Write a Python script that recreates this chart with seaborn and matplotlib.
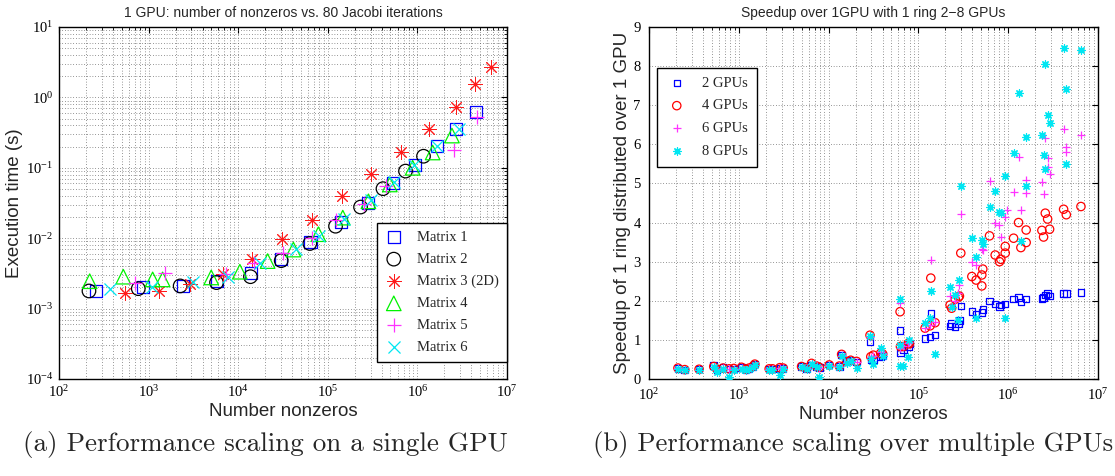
import numpy as np
import pandas as pd
import matplotlib
matplotlib.use("Agg")
import matplotlib.pyplot as plt
import seaborn as sns
from matplotlib.ticker import NullFormatter

# ---------------- Data: (a) single GPU ----------------
m1_nnz = [260, 858, 2400, 5730, 13970, 30200, 64100, 140000, 279000, 530000, 945000, 1640000, 2720000, 4540000]
m1_time = [1.78e-3, 2.0e-3, 2.1e-3, 2.45e-3, 3.2e-3, 5.0e-3, 8.7e-3, 0.017, 0.032, 0.061, 0.111, 0.203, 0.352, 0.627]

m2_nnz = [216, 767, 2250, 5730, 13700, 30200, 63000, 122000, 232000, 413000, 737000, 1170000]
m2_time = [1.78e-3, 1.92e-3, 2.1e-3, 2.34e-3, 2.84e-3, 4.8e-3, 8.4e-3, 0.0148, 0.0277, 0.0505, 0.0898, 0.146]

m3_nnz = [552, 1306, 2875, 6700, 14100, 30800, 65900, 143000, 305000, 660000, 1350000, 2670000, 4340000, 6680000]
m3_time = [1.68e-3, 1.78e-3, 2.24e-3, 3.1e-3, 5.0e-3, 9.6e-3, 0.0184, 0.0393, 0.0822, 0.168, 0.352, 0.738, 1.55, 2.72]

m4_nnz = [220, 522, 1110, 1433, 5000, 10430, 21300, 41300, 78500, 147000, 284000, 492000, 885000, 1480000, 2430000]
m4_time = [2.45e-3, 2.84e-3, 2.6e-3, 2.6e-3, 2.77e-3, 3.34e-3, 4.73e-3, 6.9e-3, 0.0114, 0.0196, 0.0334, 0.058, 0.100, 0.165, 0.287]

m5_nnz = [700, 1515, 7220, 15000, 31300, 67100, 124000, 254000, 449000, 2570000, 4620000]
m5_time = [2.33e-3, 3.24e-3, 3.1e-3, 4.38e-3, 6.2e-3, 0.0102, 0.018, 0.0303, 0.0544, 0.18, 0.532]

m6_nnz = [368, 1080, 3100, 7760, 17700, 44500, 80700, 153000, 305000, 555000, 920000, 1670000, 2900000]
m6_time = [1.92e-3, 2.04e-3, 2.41e-3, 2.77e-3, 4.38e-3, 7.1e-3, 0.0107, 0.019, 0.0345, 0.0627, 0.111, 0.207, 0.357]

matrix_labels = ["Matrix 1", "Matrix 2", "Matrix 3 (2D)", "Matrix 4", "Matrix 5", "Matrix 6"]

# ---------------- Data: (b) multi GPU speedup ----------------
nnz_b = [210, 250, 361, 526, 573, 668, 780, 879, 1072, 1197, 1303, 1445, 1507, 2178, 2371, 2864, 3119,
         5000, 5689, 6457, 7345, 7870, 10160, 13150, 13960, 15850, 17580, 20510, 28900, 29500, 31480,
         38020, 40000, 62500, 63100, 68080, 77270, 79430, 118600, 134900, 137400, 153500, 225400,
         234400, 257000, 279300, 286400, 296500, 393600, 439500, 508200, 521200, 619400, 716100,
         799800, 827900, 926800, 1148000, 1303000, 1384000, 1585000, 2371000, 2477000, 2588000,
         2748000, 2891000, 4140000, 4436000, 6457000]

sp2 = [0.27, 0.23, 0.25, 0.34, 0.23, 0.29, 0.25, 0.26, 0.29, 0.23, 0.27, 0.32, 0.38, 0.25, 0.25, 0.27, 0.27,
       0.32, 0.27, 0.36, 0.32, 0.29, 0.36, 0.32, 0.61, 0.46, 0.49, 0.44, 0.96, 0.49, 0.50, 0.57, 0.60,
       1.24, 0.67, 0.74, 0.83, 0.91, 1.04, 1.08, 1.68, 1.13, 1.36, 1.42, 1.34, 1.41, 1.49, 1.87, 1.72,
       1.66, 1.70, 1.78, 2.00, 1.92, 1.85, 1.89, 1.92, 2.04, 2.09, 1.97, 2.04, 2.06, 2.09, 2.15, 2.18,
       2.12, 2.19, 2.18, 2.21]

sp4 = [0.28, 0.24, 0.25, 0.32, 0.25, 0.28, 0.26, 0.27, 0.30, 0.25, 0.28, 0.33, 0.38, 0.26, 0.26, 0.29, 0.28,
       0.32, 0.28, 0.40, 0.33, 0.30, 0.36, 0.33, 0.63, 0.45, 0.48, 0.45, 1.12, 0.57, 0.61, 0.66, 0.64,
       1.72, 0.83, 0.83, 0.91, 0.90, 1.30, 1.36, 2.58, 1.44, 1.89, 1.81, 2.04, 2.09, 2.12, 3.22, 2.62,
       2.53, 2.38, 2.81, 3.66, 3.17, 3.00, 3.06, 3.22, 3.60, 4.00, 3.36, 3.81, 3.80, 3.63, 4.24, 4.09,
       3.83, 4.34, 4.20, 4.41]

sp6 = [0.27, 0.24, 0.24, 0.31, 0.24, 0.27, 0.25, 0.26, 0.29, 0.24, 0.27, 0.32, 0.37, 0.25, 0.25, 0.28, 0.27,
       0.31, 0.27, 0.39, 0.32, 0.29, 0.35, 0.32, 0.62, 0.44, 0.47, 0.44, 1.08, 0.55, 0.60, 0.70, 0.65,
       1.95, 0.80, 0.85, 0.92, 0.95, 1.30, 1.38, 3.05, 1.45, 2.11, 1.85, 2.00, 2.21, 2.41, 4.22, 3.00,
       2.92, 3.32, 3.30, 5.07, 3.98, 3.94, 3.64, 4.14, 4.79, 5.68, 4.33, 5.08, 5.03, 4.74, 6.17, 5.66,
       5.24, 6.40, 5.94, 6.23]

sp8 = [0.25, 0.23, 0.22, 0.30, 0.19, 0.25, 0.06, 0.24, 0.26, 0.22, 0.25, 0.30, 0.36, 0.24, 0.24, 0.09, 0.26,
       0.30, 0.25, 0.38, 0.30, 0.06, 0.33, 0.30, 0.60, 0.42, 0.45, 0.29, 1.10, 0.52, 0.38, 0.78, 0.60,
       2.05, 0.33, 0.33, 0.57, 1.00, 1.42, 1.55, 2.26, 0.64, 2.35, 1.85, 2.15, 1.50, 2.52, 4.94, 3.60,
       3.13, 3.56, 3.46, 4.41, 4.81, 4.28, 4.24, 5.20, 5.77, 7.31, 3.53, 6.19, 6.23, 5.73, 8.06, 6.74,
       6.55, 8.46, 7.42, 8.40]

extra4_nnz = [926800, 1585000, 508200]
extra4 = [3.39, 3.49, 2.66]
extra6_nnz = [1585000, 2748000, 4436000, 977000]
extra6 = [4.76, 5.43, 5.81, 4.33]
extra8_nnz = [439500, 926800, 1585000, 2588000, 4436000, 62500]
extra8 = [1.55, 1.55, 4.94, 5.38, 5.49, 0.87]

gpu_labels = ["2 GPUs", "4 GPUs", "6 GPUs", "8 GPUs"]

# ---------------- Style ----------------
sns.set_theme(style="white")
plt.rcParams["font.family"] = ["Liberation Sans", "DejaVu Sans"]
plt.rcParams["mathtext.fontset"] = "stix"
plt.rcParams["xtick.direction"] = "in"
plt.rcParams["ytick.direction"] = "in"

SERIF = ["Liberation Serif", "DejaVu Serif"]
GRID = dict(linestyle=(0, (1, 2.6)), color="0.35", linewidth=0.55)

fig = plt.figure(figsize=(11.15, 4.76), dpi=100)
fig.patch.set_facecolor("white")
W, H = 1115.0, 476.0
ax1 = fig.add_axes([59 / W, 97 / H, 448 / W, 352 / H])
ax2 = fig.add_axes([649 / W, 97 / H, 449 / W, 352 / H])

ASTER = (8, 2, 0)


def draw(ax, x, y, marker, color, size, label, filled=False, lw=0.9):
    sns.scatterplot(x=x, y=y, ax=ax, marker=marker, s=size, legend=False, label=label, zorder=3)
    coll = ax.collections[-1]
    coll.set_edgecolor(color)
    coll.set_facecolor(color if filled else "none")
    coll.set_linewidth(lw)
    coll.set_label(label)
    return coll


# ---- Panel (a) ----
left_series = [
    (m1_nnz, m1_time, "s", (0, 0, 1), 75, 0.9),
    (m2_nnz, m2_time, "o", (0, 0, 0), 95, 0.9),
    (m3_nnz, m3_time, ASTER, (1, 0.1, 0.1), 95, 0.7),
    (m4_nnz, m4_time, "^", (0, 0.95, 0), 110, 0.9),
    (m5_nnz, m5_time, "+", (1, 0.2, 1), 110, 0.9),
    (m6_nnz, m6_time, "x", (0, 0.9, 0.95), 75, 0.9),
]
for (xv, yv, mk, col, sz, lw), lab in zip(left_series, matrix_labels):
    filled = mk in (ASTER, "+", "x")
    draw(ax1, xv, yv, mk, col, sz, lab, filled=filled, lw=lw)

ax1.set_xscale("log")
ax1.set_yscale("log")
ax1.set_xlim(1e2, 1e7)
ax1.set_ylim(1e-4, 1e1)
ax1.set_title("1 GPU: number of nonzeros vs. 80 Jacobi iterations", fontsize=10, pad=7)
ax1.set_xlabel("Number nonzeros", fontsize=13.5, labelpad=2)
ax1.set_ylabel("Execution time (s)", fontsize=13.5, labelpad=2)
ax1.grid(True, which="both", **GRID)

leg1 = ax1.legend(loc="lower right", bbox_to_anchor=(1.0, 0.048), borderaxespad=0.0,
                  prop={"family": SERIF, "size": 10.5}, frameon=True, fancybox=False,
                  edgecolor="black", framealpha=1, labelspacing=0.6, handletextpad=1.0,
                  borderpad=0.55, handlelength=1.2, scatterpoints=1)
leg1.get_frame().set_linewidth(1.0)

# ---- Panel (b) ----
right_series = [
    (nnz_b, sp2, [], [], "s", (0, 0, 1), 22, False),
    (nnz_b, sp4, extra4_nnz, extra4, "o", (1, 0, 0), 36, False),
    (nnz_b, sp6, extra6_nnz, extra6, "+", (1, 0.2, 1), 30, True),
    (nnz_b, sp8, extra8_nnz, extra8, ASTER, (0, 0.9, 0.95), 28, True),
]
for (xv, yv, ex, ey, mk, col, sz, filled), lab in zip(right_series, gpu_labels):
    df = pd.DataFrame({"nnz": list(xv) + list(ex), "speedup": list(yv) + list(ey)})
    draw(ax2, df["nnz"], df["speedup"], mk, col, sz, lab, filled=filled, lw=0.9)

ax2.set_xscale("log")
ax2.set_xlim(1e2, 1e7)
ax2.set_ylim(0, 9)
ax2.set_yticks(range(0, 10))
ax2.set_title("Speedup over 1GPU with 1 ring 2\u22128 GPUs", fontsize=10, pad=7)
ax2.set_xlabel("Number nonzeros", fontsize=13.5, labelpad=2)
ax2.set_ylabel("Speedup of 1 ring distributed over 1 GPU", fontsize=13.5, labelpad=2)
ax2.grid(True, which="major", **GRID)
ax2.grid(True, which="minor", axis="x", **GRID)

leg2 = ax2.legend(loc="upper left", bbox_to_anchor=(0.018, 0.884), borderaxespad=0.0,
                  prop={"family": SERIF, "size": 10.5}, frameon=True, fancybox=False,
                  edgecolor="black", framealpha=1, labelspacing=0.65, handletextpad=1.0,
                  borderpad=0.6, handlelength=1.5, scatterpoints=1)
leg2.get_frame().set_linewidth(1.0)

for ax in (ax1, ax2):
    for sp in ax.spines.values():
        sp.set_visible(True)
        sp.set_color("black")
        sp.set_linewidth(1.0)
    ax.set_facecolor("white")
    ax.tick_params(which="both", direction="in", top=True, right=True, colors="black",
                   labelsize=10.5, pad=4)
    ax.tick_params(which="major", length=4, width=0.8)
    ax.tick_params(which="minor", length=2, width=0.6)
    for t in ax.get_xticklabels() + ax.get_yticklabels():
        t.set_fontfamily(SERIF)
    ax.xaxis.set_minor_formatter(NullFormatter())
ax1.yaxis.set_minor_formatter(NullFormatter())
ax2.tick_params(axis="y", which="minor", left=False, right=False)
ax2.tick_params(axis="x", which="major", pad=6)
ax2.tick_params(axis="y", which="major", pad=6)

fig.text(265 / W, 1 - 445 / H, "(a) Performance scaling on a single GPU", ha="center", va="center",
         fontsize=19.5, family=["cmr10", "DejaVu Serif"])
fig.text(853 / W, 1 - 445 / H, "(b) Performance scaling over multiple GPUs", ha="center", va="center",
         fontsize=19.2, family=["cmr10", "DejaVu Serif"])

fig.savefig("out.png", dpi=100, facecolor="white")
